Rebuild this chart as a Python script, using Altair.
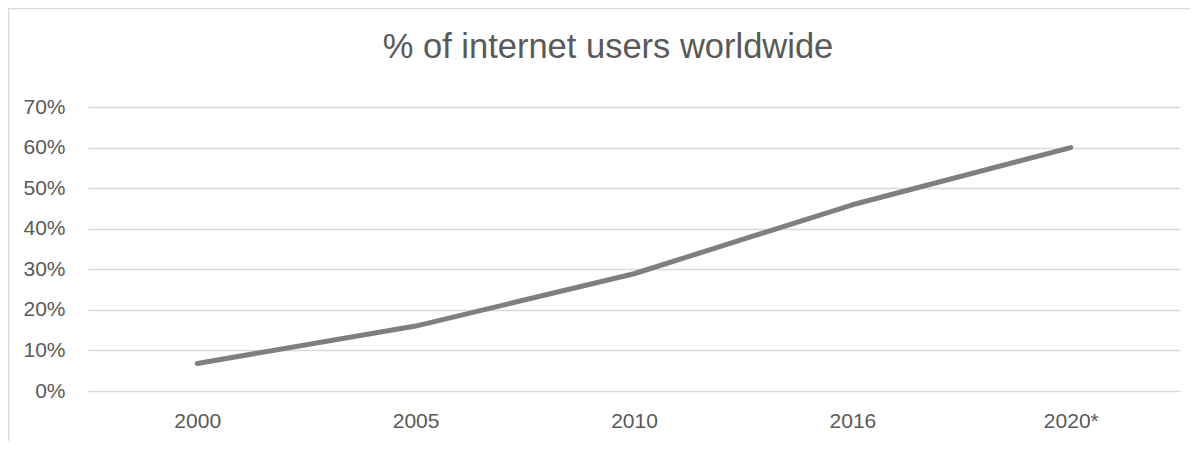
import altair as alt
import pandas as pd

years = ["2000", "2005", "2010", "2016", "2020*"]
share = [0.068, 0.160, 0.289, 0.459, 0.600]
title_text = "% of internet users worldwide"

df = pd.DataFrame({"year": years, "share": share})

FONT = "Liberation Sans"
LABEL = "#595959"
GRID = "#d9d9d9"

W, H = 1092, 284

line = alt.Chart(df).mark_line(
    color="#7f7f7f", strokeWidth=5, strokeCap="round", strokeJoin="round"
).encode(
    x=alt.X("year:O", sort=years, title=None,
            scale=alt.Scale(padding=0.5),
            axis=alt.Axis(labelAngle=0, ticks=False, domain=True, domainColor=GRID,
                          labelFont=FONT, labelFontSize=21, labelColor=LABEL,
                          labelPadding=19, grid=False)),
    y=alt.Y("share:Q", title=None,
            scale=alt.Scale(domain=[0, 0.7], nice=False),
            axis=alt.Axis(format=".0%", values=[0, 0.1, 0.2, 0.3, 0.4, 0.5, 0.6, 0.7],
                          ticks=False, domain=False, grid=True, gridColor=GRID,
                          gridWidth=1.3, labelFont=FONT, labelFontSize=21,
                          labelColor=LABEL, labelPadding=23)),
)

deco = alt.Data(values=[{"t": title_text}])

title = alt.Chart(deco).mark_text(
    font=FONT, fontSize=34.5, color=LABEL, align="center", baseline="alphabetic"
).encode(x=alt.value(520), y=alt.value(-49), text="t:N")

top_border = alt.Chart(deco).mark_rule(color=GRID, strokeWidth=1.5).encode(
    x=alt.value(-80), x2=alt.value(1102), y=alt.value(-98.5))
left_border = alt.Chart(deco).mark_rule(color=GRID, strokeWidth=1.5).encode(
    x=alt.value(-79.5), y=alt.value(-99), y2=alt.value(H + 60))

chart = alt.layer(top_border, left_border, line, title).properties(
    width=W, height=H,
    padding={"left": 80, "top": 99, "right": 15, "bottom": 50},
    autosize=alt.AutoSizeParams(type="none"),
).configure_view(stroke=None)

chart.save("out.html", embed_options={"renderer": "svg", "actions": False})
